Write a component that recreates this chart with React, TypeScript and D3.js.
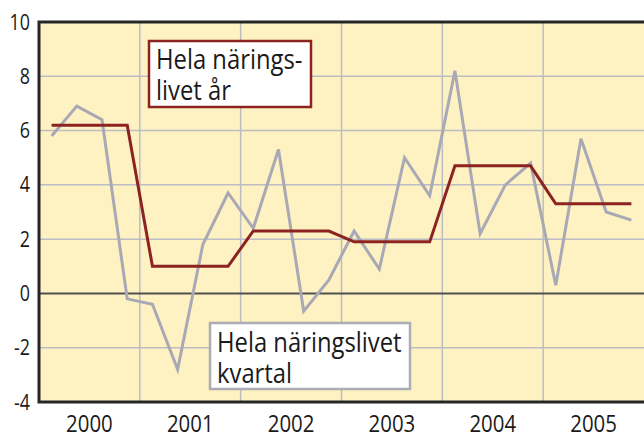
import React, { useEffect, useRef } from 'react'
import * as d3 from 'd3'

const width = 644
const height = 434
const margin = { top: 22, right: 0, bottom: 32, left: 39 }

const YEARS = ['2000', '2001', '2002', '2003', '2004', '2005']
// quarterly change, whole business sector
const quarterly = [5.8, 6.9, 6.4, -0.2, -0.4, -2.8, 1.8, 3.7, 2.4, 5.3, -0.65, 0.5,
  2.3, 0.9, 5.0, 3.6, 8.2, 2.2, 4.0, 4.8, 0.3, 5.7, 3.0, 2.7]
// yearly change, whole business sector
const yearly = [6.2, 1.0, 2.3, 1.9, 4.7, 3.3]
const yTicks = [-4, -2, 0, 2, 4, 6, 8, 10]

const font = '"Open Sans", sans-serif'
const squeeze = 0.85

// narrow the text a bit, the original uses a condensed face
function condense(sel: d3.Selection<SVGTextElement, any, any, any>) {
  sel.each(function () {
    const len = this.getComputedTextLength()
    d3.select(this).attr('textLength', len * squeeze).attr('lengthAdjust', 'spacingAndGlyphs')
  })
}

export default function App() {
  const svgRef = useRef<SVGSVGElement>(null)

  useEffect(() => {
    document.body.style.margin = '0'
    const svg = d3.select(svgRef.current)
    svg.selectAll('*').remove()

    const x = d3.scaleLinear().domain([0, quarterly.length]).range([margin.left, width - margin.right])
    const y = d3.scaleLinear().domain([-4, 10]).range([height - margin.bottom, margin.top])

    svg.append('rect')
      .attr('x', x(0)).attr('y', y(10))
      .attr('width', x(24) - x(0) + 4).attr('height', y(-4) - y(10))
      .attr('fill', '#fef2c2')

    // grid
    svg.append('g').selectAll('line').data(yTicks.filter(d => d !== 0 && d !== 10 && d !== -4))
      .enter().append('line')
      .attr('x1', x(0)).attr('x2', x(24))
      .attr('y1', d => y(d)).attr('y2', d => y(d))
      .attr('stroke', '#bcbcc4').attr('stroke-width', 1.5)

    svg.append('g').selectAll('line').data(d3.range(1, YEARS.length))
      .enter().append('line')
      .attr('x1', d => x(d * 4)).attr('x2', d => x(d * 4))
      .attr('y1', y(10)).attr('y2', y(-4))
      .attr('stroke', '#bcbcc4').attr('stroke-width', 1.5)

    svg.append('line')
      .attr('x1', x(0)).attr('x2', x(24))
      .attr('y1', y(0)).attr('y2', y(0))
      .attr('stroke', '#505050').attr('stroke-width', 2)

    const line = d3.line<number>()
      .x((d, i) => x(i + 0.5))
      .y(d => y(d))

    svg.append('path')
      .datum(quarterly)
      .attr('d', line)
      .attr('fill', 'none')
      .attr('stroke', '#a9a9b5')
      .attr('stroke-width', 3)

    const yearlyQ = yearly.flatMap(v => [v, v, v, v])
    svg.append('path')
      .datum(yearlyQ)
      .attr('d', line)
      .attr('fill', 'none')
      .attr('stroke', '#8c2320')
      .attr('stroke-width', 3)

    // frame
    svg.append('path')
      .attr('d', `M${x(24) + 4},${y(10)}H${x(0)}V${y(-4)}H${x(24) + 4}`)
      .attr('fill', 'none')
      .attr('stroke', '#262626')
      .attr('stroke-width', 3)

    svg.append('g').selectAll('text').data(yTicks)
      .enter().append('text')
      .attr('x', 30).attr('y', d => y(d))
      .attr('dy', '0.36em')
      .attr('text-anchor', 'end')
      .attr('font-family', font).attr('font-size', 21)
      .attr('fill', '#1a1a1a')
      .text(d => d)
      .call(condense)

    svg.append('g').selectAll('text').data(YEARS)
      .enter().append('text')
      .attr('x', (d, i) => x(i * 4 + 2)).attr('y', 432)
      .attr('text-anchor', 'middle')
      .attr('font-family', font).attr('font-size', 24)
      .attr('fill', '#1a1a1a')
      .text(d => d)
      .call(condense)

    // legend boxes
    const boxes = [
      { x: 149, y: 41, w: 162, h: 66, stroke: '#8c2320', lines: ['Hela närings-', 'livet år'], base: 69 },
      { x: 210, y: 323, w: 200, h: 66, stroke: '#acacb4', lines: ['Hela näringslivet', 'kvartal'], base: 352 },
    ]
    boxes.forEach(b => {
      svg.append('rect')
        .attr('x', b.x).attr('y', b.y).attr('width', b.w).attr('height', b.h)
        .attr('fill', '#fff').attr('stroke', b.stroke).attr('stroke-width', 2.5)
      b.lines.forEach((t, i) => {
        svg.append('text')
          .attr('x', b.x + 7).attr('y', b.base + i * 30.5)
          .attr('font-family', font).attr('font-size', 28)
          .attr('fill', '#1a1a1a')
          .text(t)
          .call(condense)
      })
    })
  }, [])

  return <svg ref={svgRef} width={width} height={height} style={{ display: 'block' }} />
}
